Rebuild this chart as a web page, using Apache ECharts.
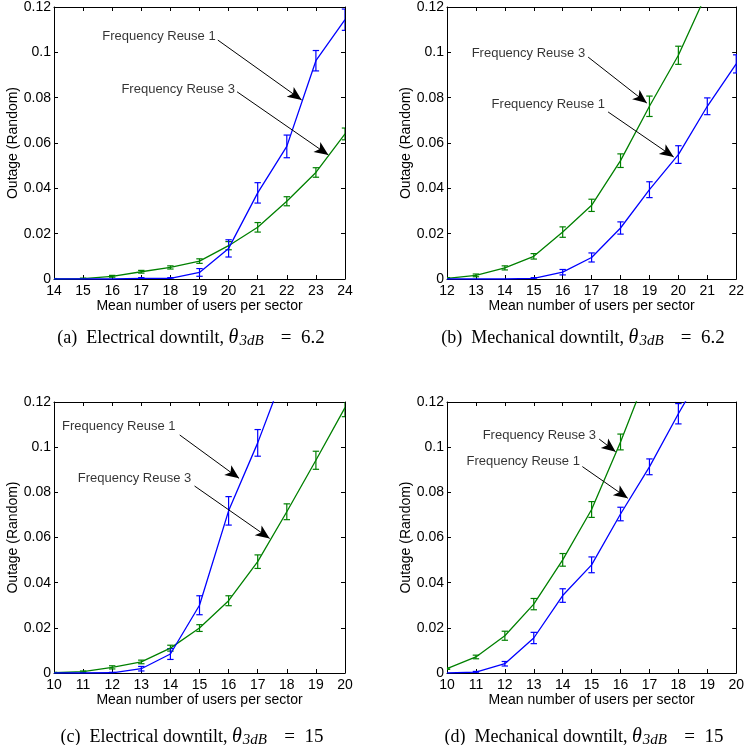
<!DOCTYPE html>
<html>
<head>
<meta charset="utf-8">
<script src="https://cdn.jsdelivr.net/npm/echarts@6/dist/echarts.min.js"></script>
<style>
html,body{margin:0;padding:0;background:#fff;}
#chart{width:747px;height:745px;}
</style>
</head>
<body>
<div id="chart"></div>
<script>
// ---- Data ----
const yTicks = [0, 0.02, 0.04, 0.06, 0.08, 0.1, 0.12];

// (a) Electrical downtilt, 6.2
const xA = [14, 15, 16, 17, 18, 19, 20, 21, 22, 23, 24];
const reuse1A = [0, 0, 0, 0.0003, 0.0003, 0.0029, 0.0135, 0.038, 0.0585, 0.0963, 0.1144];
const err1A   = [0, 0, 0, 0.0003, 0.0003, 0.0017, 0.0038, 0.0045, 0.005, 0.0045, 0.0047];
const reuse3A = [0, 0.0002, 0.0012, 0.0032, 0.0051, 0.0079, 0.0147, 0.0228, 0.0343, 0.047, 0.064];
const err3A   = [0.0002, 0.0002, 0.0004, 0.0006, 0.0007, 0.001, 0.0018, 0.0021, 0.002, 0.0021, 0.0026];

// (b) Mechanical downtilt, 6.2
const xB = [12, 13, 14, 15, 16, 17, 18, 19, 20, 21, 22];
const reuse1B = [0, 0, 0, 0.0003, 0.003, 0.0095, 0.0225, 0.0394, 0.0549, 0.0762, 0.0949];
const err1B   = [0, 0, 0, 0.0003, 0.0012, 0.002, 0.0027, 0.0035, 0.0039, 0.0037, 0.004];
const reuse3B = [0.0003, 0.0016, 0.0049, 0.01, 0.0207, 0.0325, 0.0522, 0.0762, 0.0987, 0.1267];
const err3B   = [0.0003, 0.0006, 0.0009, 0.0012, 0.0023, 0.0027, 0.003, 0.0045, 0.004, 0.004];

// (c) Electrical downtilt, 15
const xC = [10, 11, 12, 13, 14, 15, 16, 17, 18, 19, 20];
const reuse1C = [0, 0, 0.0001, 0.0019, 0.0084, 0.030, 0.0718, 0.1019, 0.136];
const err1C   = [0, 0, 0.0002, 0.001, 0.0024, 0.0042, 0.0063, 0.0059, 0.006];
const reuse3C = [0.0001, 0.0006, 0.0025, 0.0049, 0.011, 0.0199, 0.032, 0.0493, 0.0714, 0.0942, 0.1175];
const err3C   = [0.0002, 0.0003, 0.0007, 0.0008, 0.0013, 0.0015, 0.0022, 0.003, 0.0035, 0.004, 0.004];

// (d) Mechanical downtilt, 15
const xD = [10, 11, 12, 13, 14, 15, 16, 17, 18, 19, 20];
const reuse1D = [0, 0.0004, 0.0041, 0.0155, 0.0343, 0.0479, 0.0704, 0.0913, 0.1148, 0.137];
const err1D   = [0, 0.0003, 0.001, 0.0025, 0.003, 0.0035, 0.003, 0.0035, 0.0045, 0.005];
const reuse3D = [0.0019, 0.0071, 0.0165, 0.0305, 0.0501, 0.0724, 0.1023, 0.135];
const err3D   = [0.0003, 0.0008, 0.002, 0.0025, 0.0028, 0.0035, 0.0035, 0.004];

// Annotations: [label, textX, textY, arrowFromX, arrowFromY, arrowToX, arrowToY] (data coords)
const annotA = [['Frequency Reuse 1', 19.59, 0.1068, 19.63, 0.1054, 22.51, 0.079],
                ['Frequency Reuse 3', 20.25, 0.0837, 20.29, 0.0826, 23.43, 0.0547]];
const annotB = [['Frequency Reuse 3', 16.81, 0.0997, 16.88, 0.0979, 18.91, 0.0776],
                ['Frequency Reuse 1', 17.50, 0.0768, 17.57, 0.0737, 19.84, 0.0538]];
const annotC = [['Frequency Reuse 1', 14.21, 0.1091, 14.32, 0.1054, 16.36, 0.0862],
                ['Frequency Reuse 3', 14.75, 0.0862, 14.83, 0.0828, 17.41, 0.0596]];
const annotD = [['Frequency Reuse 3', 15.19, 0.1051, 15.26, 0.1036, 15.83, 0.098],
                ['Frequency Reuse 1', 14.63, 0.0936, 14.68, 0.0914, 16.25, 0.0774]];

const captions = [['(a)', 'Electrical downtilt, ', '6.2'],
                  ['(b)', 'Mechanical downtilt, ', '6.2'],
                  ['(c)', 'Electrical downtilt, ', '15'],
                  ['(d)', 'Mechanical downtilt, ', '15']];

const xLabel = 'Mean number of users per sector';
const yLabel = 'Outage (Random)';

// ---- Layout ----
const BLUE = '#0000ff', GREEN = '#008000';
const SANS = '"Liberation Sans", Arial, sans-serif';
const SERIF = '"Liberation Serif", "Times New Roman", serif';

const panels = [
  {xs: xA, r1: reuse1A, e1: err1A, r3: reuse3A, e3: err3A, ann: annotA, grid: {left: 54, top: 7, width: 291, height: 272}},
  {xs: xB, r1: reuse1B, e1: err1B, r3: reuse3B, e3: err3B, ann: annotB, grid: {left: 447, top: 7, width: 291, height: 272}},
  {xs: xC, r1: reuse1C, e1: err1C, r3: reuse3C, e3: err3C, ann: annotC, grid: {left: 54, top: 402, width: 291, height: 271}},
  {xs: xD, r1: reuse1D, e1: err1D, r3: reuse3D, e3: err3D, ann: annotD, grid: {left: 447, top: 402, width: 291, height: 271}}
];
const captionPos = [[191, 338], [583, 338], [192, 737], [584, 737]];

const grids = [], xAxes = [], yAxes = [], series = [], graphics = [];
const tickStyle = {show: true, inside: true, length: 4, lineStyle: {color: '#000', width: 1}};
const lineStyleAx = {show: true, onZero: false, lineStyle: {color: '#000', width: 1}};

function errRender(color) {
  return function (params, api) {
    const x = api.value(0), lo = api.value(1), hi = api.value(2);
    if (hi - lo < 1e-7) return null;
    const p1 = api.coord([x, lo]), p2 = api.coord([x, hi]);
    const w = 3.2;
    const st = {stroke: color, lineWidth: 1.2};
    return {type: 'group', children: [
      {type: 'line', shape: {x1: p1[0], y1: p1[1], x2: p2[0], y2: p2[1]}, style: st},
      {type: 'line', shape: {x1: p1[0] - w, y1: p1[1], x2: p1[0] + w, y2: p1[1]}, style: st},
      {type: 'line', shape: {x1: p2[0] - w, y1: p2[1], x2: p2[0] + w, y2: p2[1]}, style: st}
    ]};
  };
}

panels.forEach((p, i) => {
  grids.push(Object.assign({containLabel: false}, p.grid));
  const xmin = p.xs[0], xmax = p.xs[p.xs.length - 1];
  xAxes.push({
    type: 'value', gridIndex: i, min: xmin, max: xmax, interval: 1, position: 'bottom',
    axisLine: lineStyleAx, axisTick: tickStyle, splitLine: {show: false},
    axisLabel: {color: '#000', fontSize: 14, fontFamily: SANS, margin: 5},
    name: xLabel, nameLocation: 'middle', nameGap: 19,
    nameTextStyle: {color: '#000', fontSize: 14, fontFamily: SANS}
  });
  yAxes.push({
    type: 'value', gridIndex: i, min: yTicks[0], max: yTicks[yTicks.length - 1], interval: 0.02, position: 'left',
    axisLine: lineStyleAx, axisTick: tickStyle, splitLine: {show: false},
    axisLabel: {color: '#000', fontSize: 14, fontFamily: SANS, margin: 3,
      formatter: v => String(+(+v).toFixed(2))},
    name: yLabel, nameLocation: 'middle', nameGap: 34,
    nameTextStyle: {color: '#000', fontSize: 14, fontFamily: SANS}
  });
});
panels.forEach((p, i) => {
  const xmin = p.xs[0], xmax = p.xs[p.xs.length - 1];
  xAxes.push({type: 'value', gridIndex: i, min: xmin, max: xmax, interval: 1, position: 'top',
    axisLine: lineStyleAx, axisTick: tickStyle, axisLabel: {show: false}, splitLine: {show: false}});
  yAxes.push({type: 'value', gridIndex: i, min: 0, max: 0.12, interval: 0.02, position: 'right',
    axisLine: lineStyleAx, axisTick: tickStyle, axisLabel: {show: false}, splitLine: {show: false}});
});

panels.forEach((p, i) => {
  const common = {xAxisIndex: i, yAxisIndex: i};
  const mk = (vals) => vals.map((v, k) => [p.xs[k], v]);
  const mkErr = (vals, errs) => vals.map((v, k) => [p.xs[k], v - errs[k], v + errs[k]]);
  [[p.r3, p.e3, GREEN], [p.r1, p.e1, BLUE]].forEach(([vals, errs, col]) => {
    series.push(Object.assign({
      type: 'line', data: mk(vals), symbol: 'none', clip: true, silent: true,
      lineStyle: {color: col, width: 1.3}, itemStyle: {color: col}
    }, common));
    series.push(Object.assign({
      type: 'custom', data: mkErr(vals, errs), renderItem: errRender(col), clip: true, silent: true
    }, common));
  });
  // arrows
  series.push(Object.assign({
    type: 'line', data: [], silent: true,
    markLine: {
      silent: true, symbol: ['none', 'arrow'], symbolSize: [9, 14], label: {show: false},
      lineStyle: {color: '#000', width: 1, type: 'solid'},
      emphasis: {disabled: true},
      data: p.ann.map(a => [{coord: [a[3], a[4]]}, {coord: [a[5], a[6]]}])
    }
  }, common));
  // annotation text
  p.ann.forEach(a => {
    series.push(Object.assign({
      type: 'scatter', data: [[a[1], a[2]]], symbolSize: 0, silent: true,
      itemStyle: {color: 'transparent'},
      label: {show: true, position: 'left', distance: 1, formatter: a[0],
        color: '#000', fontSize: 13, fontFamily: SANS}
    }, common));
  });
});

captions.forEach((c, i) => {
  graphics.push({
    type: 'text', x: captionPos[i][0], y: captionPos[i][1],
    style: {
      text: c[0] + '  ' + c[1] + '{th|θ}{sub|3dB}{n|   =  ' + c[2] + '}',
      font: '18px ' + SERIF, fill: '#000', align: 'center', verticalAlign: 'middle',
      lineHeight: 22,
      rich: {
        th: {fontSize: 20, fontStyle: 'italic', fontFamily: SERIF, lineHeight: 22},
        sub: {fontSize: 15, fontStyle: 'italic', fontFamily: SERIF, lineHeight: 9, verticalAlign: 'bottom', padding: [0, 3, 0, 1]},
        n: {fontSize: 19, fontFamily: SERIF, lineHeight: 22}
      }
    }
  });
});

const chart = echarts.init(document.getElementById('chart'), null, {renderer: 'canvas'});
chart.setOption({
  animation: false,
  backgroundColor: '#fff',
  grid: grids, xAxis: xAxes, yAxis: yAxes, series: series, graphic: graphics
});
</script>
</body>
</html>
